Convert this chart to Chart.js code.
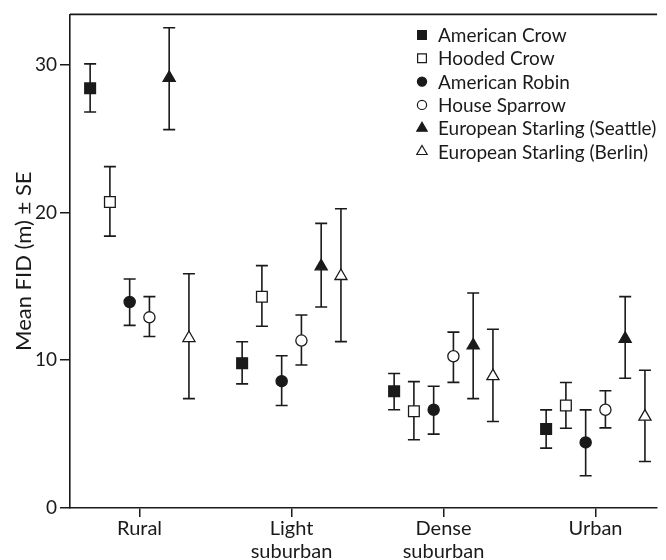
<!DOCTYPE html>
<html>
<head>
<meta charset="utf-8">
<script src="https://cdn.jsdelivr.net/npm/chart.js@4.4.1/dist/chart.umd.min.js"></script>
<style>
  html, body { margin: 0; padding: 0; background: #ffffff; }
  #wrap { width: 666px; height: 560px; }
</style>
</head>
<body>
<div id="wrap"><canvas id="c" width="666" height="560"></canvas></div>
<script>
// ---- Data ----
const categories = ["Rural", ["Light", "suburban"], ["Dense", "suburban"], "Urban"];
const seriesNames = ["American Crow", "Hooded Crow", "American Robin", "House Sparrow",
                     "European Starling (Seattle)", "European Starling (Berlin)"];
const yTickValues = [0, 10, 20, 30];

const americanCrowMean = [28.4, 9.8, 7.9, 5.35];
const americanCrowLow  = [26.8, 8.4, 6.65, 4.05];
const americanCrowHigh = [30.05, 11.25, 9.1, 6.64];

const hoodedCrowMean = [20.7, 14.3, 6.55, 6.94];
const hoodedCrowLow  = [18.4, 12.3, 4.62, 5.4];
const hoodedCrowHigh = [23.1, 16.4, 8.55, 8.49];

const robinMean = [13.94, 8.58, 6.65, 4.44];
const robinLow  = [12.36, 6.94, 5.0, 2.18];
const robinHigh = [15.5, 10.3, 8.24, 6.64];

const sparrowMean = [12.9, 11.33, 10.27, 6.65];
const sparrowLow  = [11.6, 9.68, 8.5, 5.42];
const sparrowHigh = [14.3, 13.06, 11.9, 7.93];

const starlingSeattleMean = [29.1, 16.35, 11.0, 11.45];
const starlingSeattleLow  = [25.6, 13.6, 7.4, 8.78];
const starlingSeattleHigh = [32.5, 19.26, 14.55, 14.3];

const starlingBerlinMean = [11.5, 15.7, 8.92, 6.18];
const starlingBerlinLow  = [7.4, 11.26, 5.85, 3.15];
const starlingBerlinHigh = [15.85, 20.25, 12.1, 9.32];

// ---- Styling ----
const INK = '#1a1a1a';
const FONT = 'Lato';
const seriesStyles = [
  { pointStyle: 'rect',     fill: INK,   radius: 7.6 },
  { pointStyle: 'rect',     fill: '#fff', radius: 7.6 },
  { pointStyle: 'circle',   fill: INK,   radius: 5.6 },
  { pointStyle: 'circle',   fill: '#fff', radius: 5.6 },
  { pointStyle: 'triangle', fill: INK,   radius: 7 },
  { pointStyle: 'triangle', fill: '#fff', radius: 7 }
];
const means = [americanCrowMean, hoodedCrowMean, robinMean, sparrowMean, starlingSeattleMean, starlingBerlinMean];
const lows  = [americanCrowLow, hoodedCrowLow, robinLow, sparrowLow, starlingSeattleLow, starlingBerlinLow];
const highs = [americanCrowHigh, hoodedCrowHigh, robinHigh, sparrowHigh, starlingSeattleHigh, starlingBerlinHigh];
const groupStep = 0.13; // spacing of series within a category (category units)

const datasets = seriesNames.map((name, s) => ({
  label: name,
  data: categories.map((c, i) => ({ x: i + (s - (seriesNames.length - 1) / 2) * groupStep, y: means[s][i] })),
  errLow: lows[s],
  errHigh: highs[s],
  showLine: false,
  pointStyle: seriesStyles[s].pointStyle,
  pointRadius: seriesStyles[s].radius,
  pointHoverRadius: seriesStyles[s].radius,
  backgroundColor: seriesStyles[s].fill,
  borderColor: INK,
  borderWidth: 1.3
}));

// Error bars drawn behind the markers, positioned through the chart scales
const errorBars = {
  id: 'errorBars',
  beforeDatasetsDraw(chart) {
    const { ctx, scales: { x, y } } = chart;
    ctx.save();
    ctx.strokeStyle = INK;
    ctx.lineWidth = 1.6;
    const cap = 6;
    chart.data.datasets.forEach(ds => {
      ds.data.forEach((p, i) => {
        const px = x.getPixelForValue(p.x);
        const yl = y.getPixelForValue(ds.errLow[i]);
        const yh = y.getPixelForValue(ds.errHigh[i]);
        ctx.beginPath();
        ctx.moveTo(px, yl); ctx.lineTo(px, yh);
        ctx.moveTo(px - cap, yl); ctx.lineTo(px + cap, yl);
        ctx.moveTo(px - cap, yh); ctx.lineTo(px + cap, yh);
        ctx.stroke();
      });
    });
    ctx.restore();
  }
};

// Top frame line + legend inside the plot
const frameAndLegend = {
  id: 'frameAndLegend',
  afterDraw(chart) {
    const { ctx, chartArea } = chart;
    ctx.save();
    ctx.strokeStyle = INK;
    ctx.lineWidth = 1.6;
    ctx.beginPath();
    ctx.moveTo(chartArea.left, chartArea.top);
    ctx.lineTo(chartArea.right, chartArea.top);
    ctx.stroke();

    const mx = 422, tx = 438, y0 = 35, dy = 23.3;
    ctx.font = '19px ' + FONT;
    ctx.textBaseline = 'middle';
    ctx.textAlign = 'left';
    chart.data.datasets.forEach((ds, k) => {
      const cy = y0 + k * dy;
      ctx.fillStyle = ds.backgroundColor;
      ctx.strokeStyle = INK;
      ctx.lineWidth = 1.2;
      Chart.helpers.drawPoint(ctx, {
        pointStyle: ds.pointStyle,
        radius: ds.pointStyle === 'rect' ? 6.2 : (ds.pointStyle === 'circle' ? 4.6 : 6),
        borderWidth: 1.2,
        rotation: 0
      }, mx, cy);
      ctx.fillStyle = INK;
      ctx.fillText(ds.label, tx, cy + 1);
    });
    ctx.restore();
  }
};

new Chart(document.getElementById('c'), {
  type: 'scatter',
  data: { datasets },
  plugins: [errorBars, frameAndLegend],
  options: {
    responsive: false,
    animation: false,
    events: [],
    layout: { padding: { top: 14, right: 0, left: 0, bottom: 0 } },
    plugins: { legend: { display: false }, tooltip: { enabled: false } },
    scales: {
      x: {
        type: 'linear',
        min: -0.4575,
        max: 3.405,
        afterBuildTicks: axis => { axis.ticks = categories.map((c, i) => ({ value: i })); },
        afterFit: axis => { axis.height = 52; },
        ticks: {
          callback: v => categories[v],
          autoSkip: false,
          maxRotation: 0,
          color: INK,
          padding: 0,
          font: { family: FONT, size: 20, lineHeight: 1.15 }
        },
        grid: { display: true, drawOnChartArea: false, drawTicks: true, tickLength: 9, color: INK, lineWidth: 1.5 },
        border: { display: true, color: INK, width: 1.6 }
      },
      y: {
        min: 0,
        max: 33.4,
        afterBuildTicks: axis => { axis.ticks = yTickValues.map(v => ({ value: v })); },
        afterFit: axis => { axis.width = 70; },
        ticks: { color: INK, padding: 3, font: { family: FONT, size: 19 } },
        grid: { display: true, drawOnChartArea: false, drawTicks: true, tickLength: 10, color: INK, lineWidth: 1.5 },
        border: { display: true, color: INK, width: 1.6 },
        title: {
          display: true,
          text: 'Mean FID (m) \u00B1 SE',
          color: INK,
          font: { family: FONT, size: 22 },
          padding: { top: 11, bottom: 0 }
        }
      }
    }
  }
});
</script>
</body>
</html>
